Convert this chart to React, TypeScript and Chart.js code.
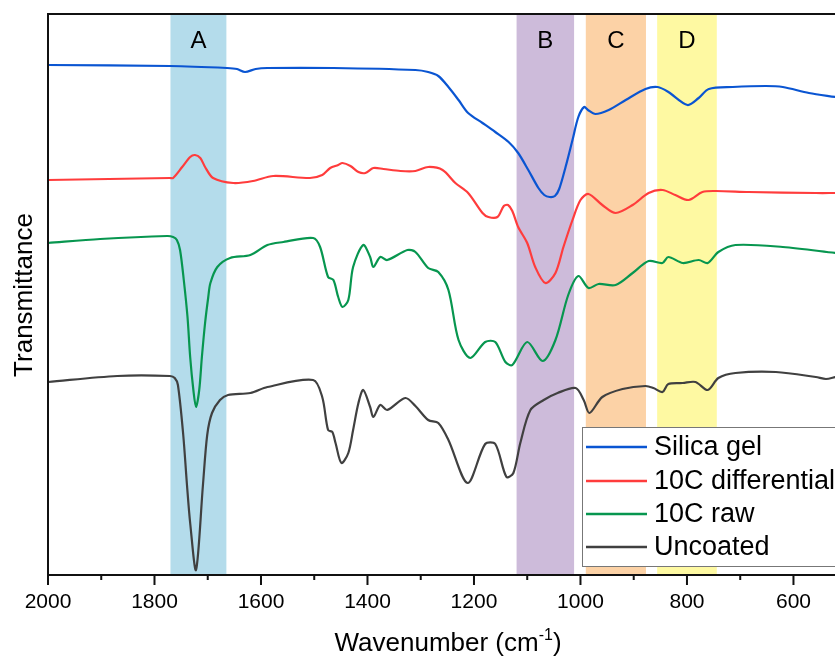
import React, { useEffect, useRef } from "react";
import { Chart, registerables } from "chart.js";

Chart.register(...registerables);

// ---- Data (wavenumber in cm-1, transmittance in arbitrary offset units) ----
const silicaWn = [2000, 1771, 1664, 1645, 1630, 1610, 1588, 1464, 1310, 1286, 1267, 1248, 1229, 1211, 1184, 1160, 1135, 1117, 1098, 1079, 1068, 1058, 1048, 1040, 1028, 1015, 1004, 993, 986, 972, 947, 915, 878, 855, 835, 799, 778, 759, 714, 652, 620, 571, 521];
const silicaT = [510, 509, 507, 506, 503, 506, 507, 507, 505, 503, 499, 488, 475, 462, 452, 443, 433, 422, 405, 387, 380, 378, 379, 386, 408, 435, 458, 468, 465, 461, 465, 475, 486, 488, 483, 470, 477, 486, 488, 489, 488, 482, 478];

const diffWn = [2000, 1771, 1765, 1748, 1733, 1724, 1714, 1705, 1690, 1652, 1615, 1577, 1508, 1485, 1470, 1455, 1447, 1432, 1417, 1404, 1389, 1370, 1338, 1310, 1286, 1259, 1235, 1211, 1184, 1173, 1156, 1144, 1136, 1128, 1117, 1100, 1085, 1066, 1047, 1032, 1015, 1000, 985, 959, 934, 902, 872, 846, 822, 797, 771, 746, 684, 558, 521];
const diffT = [395, 397, 397, 408, 418, 420, 417, 408, 397, 392, 394, 399, 397, 400, 407, 410, 412, 409, 403, 402, 407, 406, 404, 404, 408, 405, 392, 382, 362, 358, 358, 369, 370, 364, 348, 332, 308, 292, 302, 328, 355, 375, 381, 370, 362, 370, 382, 385, 380, 375, 383, 384, 383, 382, 382];

const rawWn = [2000, 1902, 1776, 1765, 1758, 1752, 1745, 1738, 1733, 1727, 1722, 1716, 1711, 1705, 1699, 1695, 1682, 1658, 1620, 1588, 1558, 1502, 1489, 1474, 1464, 1455, 1447, 1436, 1427, 1408, 1395, 1389, 1376, 1363, 1325, 1310, 1286, 1267, 1248, 1229, 1207, 1179, 1160, 1141, 1128, 1100, 1071, 1047, 1023, 1004, 985, 966, 934, 902, 872, 846, 835, 808, 778, 761, 741, 709, 620, 521];
const rawT = [332, 336, 339, 338, 335, 325, 295, 258, 218, 185, 168, 185, 218, 252, 278, 292, 308, 317, 320, 330, 333, 337, 328, 298, 295, 278, 268, 275, 308, 330, 318, 308, 318, 315, 325, 323, 307, 303, 285, 235, 217, 233, 233, 213, 210, 233, 214, 235, 280, 299, 287, 291, 290, 302, 314, 312, 318, 312, 315, 312, 323, 330, 328, 322];

const uncoatedWn = [2000, 1870, 1771, 1762, 1756, 1746, 1739, 1733, 1722, 1709, 1701, 1692, 1677, 1662, 1620, 1588, 1502, 1485, 1474, 1466, 1460, 1449, 1436, 1427, 1417, 1408, 1395, 1389, 1376, 1363, 1329, 1310, 1286, 1267, 1248, 1212, 1179, 1160, 1139, 1126, 1113, 1094, 1069, 1043, 1009, 994, 983, 959, 921, 878, 863, 846, 835, 808, 784, 761, 741, 709, 633, 558, 539, 521];
const uncoatedT = [193, 199, 199, 197, 190, 140, 90, 52, 5, 90, 140, 162, 175, 180, 182, 188, 195, 178, 145, 143, 132, 112, 122, 145, 172, 185, 168, 158, 170, 165, 177, 169, 155, 152, 135, 92, 131, 131, 98, 102, 132, 165, 175, 182, 187, 175, 162, 178, 186, 189, 187, 183, 191, 192, 193, 185, 197, 202, 203, 198, 196, 198];

const seriesNames = ["Silica gel", "10C differential", "10C raw", "Uncoated"];
const seriesColors = ["#0a55d2", "#ff3c3c", "#07964f", "#404040"];

const bandLabels = ["A", "B", "C", "D"];
const bandFrom = [1770, 1120, 990, 856];
const bandTo = [1665, 1012, 877, 744];
const bandColors = ["#b4dceb", "#cdbbda", "#fcd2a6", "#fef9a2"];

const majorTicks = [2000, 1800, 1600, 1400, 1200, 1000, 800, 600];
const minorTicks = [1900, 1700, 1500, 1300, 1100, 900, 700];

const X_MAX = 2000;
const X_MIN = 522;

const FONT = "'Liberation Sans', Arial, Helvetica, sans-serif";

const toPoints = (xs: number[], ys: number[]) => xs.map((x, i) => ({ x, y: ys[i] }));

const decorPlugin = {
  id: "decor",
  beforeDatasetsDraw(chart: any) {
    const { ctx, chartArea } = chart;
    const xs = chart.scales.x;
    const { top, bottom } = chartArea;
    ctx.save();
    for (let i = 0; i < bandLabels.length; i++) {
      const x1 = xs.getPixelForValue(bandFrom[i]);
      const x2 = xs.getPixelForValue(bandTo[i]);
      ctx.fillStyle = bandColors[i];
      ctx.fillRect(Math.min(x1, x2), top, Math.abs(x2 - x1), bottom - top);
      ctx.fillStyle = "#000";
      ctx.font = `24px ${FONT}`;
      ctx.textAlign = "center";
      ctx.textBaseline = "middle";
      ctx.fillText(bandLabels[i], (x1 + x2) / 2, top + 27);
    }
    ctx.restore();
  },
  afterDatasetsDraw(chart: any) {
    const { ctx, chartArea } = chart;
    const xs = chart.scales.x;
    const { left, right, top, bottom } = chartArea;
    ctx.save();
    // frame
    ctx.strokeStyle = "#111";
    ctx.lineWidth = 2;
    ctx.beginPath();
    ctx.moveTo(left, top);
    ctx.lineTo(right + 5, top);
    ctx.moveTo(left, top - 1);
    ctx.lineTo(left, bottom + 1);
    ctx.moveTo(left - 1, bottom);
    ctx.lineTo(right + 5, bottom);
    ctx.stroke();
    // ticks
    ctx.beginPath();
    majorTicks.forEach((v) => {
      const px = xs.getPixelForValue(v);
      ctx.moveTo(px, bottom);
      ctx.lineTo(px, bottom + 10);
    });
    minorTicks.forEach((v) => {
      const px = xs.getPixelForValue(v);
      ctx.moveTo(px, bottom);
      ctx.lineTo(px, bottom + 5);
    });
    ctx.stroke();
    // tick labels
    ctx.fillStyle = "#000";
    ctx.font = `21px ${FONT}`;
    ctx.textAlign = "center";
    ctx.textBaseline = "middle";
    majorTicks.forEach((v) => {
      ctx.fillText(String(v), xs.getPixelForValue(v), bottom + 27);
    });
    // x title with superscript
    const main = "Wavenumber (cm";
    const sup = "-1";
    const close = ")";
    ctx.font = `26px ${FONT}`;
    const wMain = ctx.measureText(main).width;
    const wClose = ctx.measureText(close).width;
    ctx.font = `16px ${FONT}`;
    const wSup = ctx.measureText(sup).width;
    const total = wMain + wSup + wClose;
    const cx = 448;
    const baseY = bottom + 76;
    let tx = cx - total / 2;
    ctx.textAlign = "left";
    ctx.textBaseline = "alphabetic";
    ctx.font = `26px ${FONT}`;
    ctx.fillText(main, tx, baseY);
    tx += wMain;
    ctx.font = `16px ${FONT}`;
    ctx.fillText(sup, tx, baseY - 11);
    tx += wSup;
    ctx.font = `26px ${FONT}`;
    ctx.fillText(close, tx, baseY);
    // y title
    ctx.save();
    ctx.translate(25, 295);
    ctx.rotate(-Math.PI / 2);
    ctx.textAlign = "center";
    ctx.textBaseline = "middle";
    ctx.font = `26px ${FONT}`;
    ctx.fillText("Transmittance", 0, 0);
    ctx.restore();
    // legend
    const lx = 582.5;
    const ly = 427.5;
    ctx.fillStyle = "#fff";
    ctx.fillRect(lx, ly, 320, 139);
    ctx.strokeStyle = "#777";
    ctx.lineWidth = 1;
    ctx.strokeRect(lx, ly, 320, 139);
    const rows = [447, 481, 514, 547];
    ctx.font = `27px ${FONT}`;
    ctx.textAlign = "left";
    ctx.textBaseline = "middle";
    seriesNames.forEach((name, i) => {
      ctx.strokeStyle = seriesColors[i];
      ctx.lineWidth = 2.5;
      ctx.beginPath();
      ctx.moveTo(586, rows[i]);
      ctx.lineTo(647, rows[i]);
      ctx.stroke();
      ctx.fillStyle = "#000";
      ctx.fillText(name, 654, rows[i] + 1);
    });
    ctx.restore();
  },
};

export default function App() {
  const ref = useRef<HTMLCanvasElement | null>(null);
  useEffect(() => {
    document.body.style.margin = "0";
    const canvas = ref.current;
    if (!canvas) return;
    const allWn = [silicaWn, diffWn, rawWn, uncoatedWn];
    const allT = [silicaT, diffT, rawT, uncoatedT];
    const chart = new Chart(canvas, {
      type: "line",
      data: {
        datasets: seriesNames.map((name, i) => ({
          label: name,
          data: toPoints(allWn[i], allT[i]),
          borderColor: seriesColors[i],
          backgroundColor: seriesColors[i],
          borderWidth: 2.2,
          pointRadius: 0,
          tension: 0.3,
          fill: false,
        })),
      },
      options: {
        responsive: false,
        animation: false,
        devicePixelRatio: 1,
        layout: { padding: { left: 48, top: 14, right: 0, bottom: 84 } },
        plugins: { legend: { display: false }, tooltip: { enabled: false } },
        events: [],
        scales: {
          x: { type: "linear", reverse: true, min: X_MIN, max: X_MAX, display: false },
          y: { type: "linear", min: 0, max: 561, display: false },
        },
      },
      plugins: [decorPlugin],
    });
    return () => chart.destroy();
  }, []);
  return (
    <div style={{ position: "absolute", left: 0, top: 0, width: 835, height: 659, background: "#fff" }}>
      <canvas ref={ref} width={835} height={659} style={{ width: 835, height: 659, display: "block" }} />
    </div>
  );
}
